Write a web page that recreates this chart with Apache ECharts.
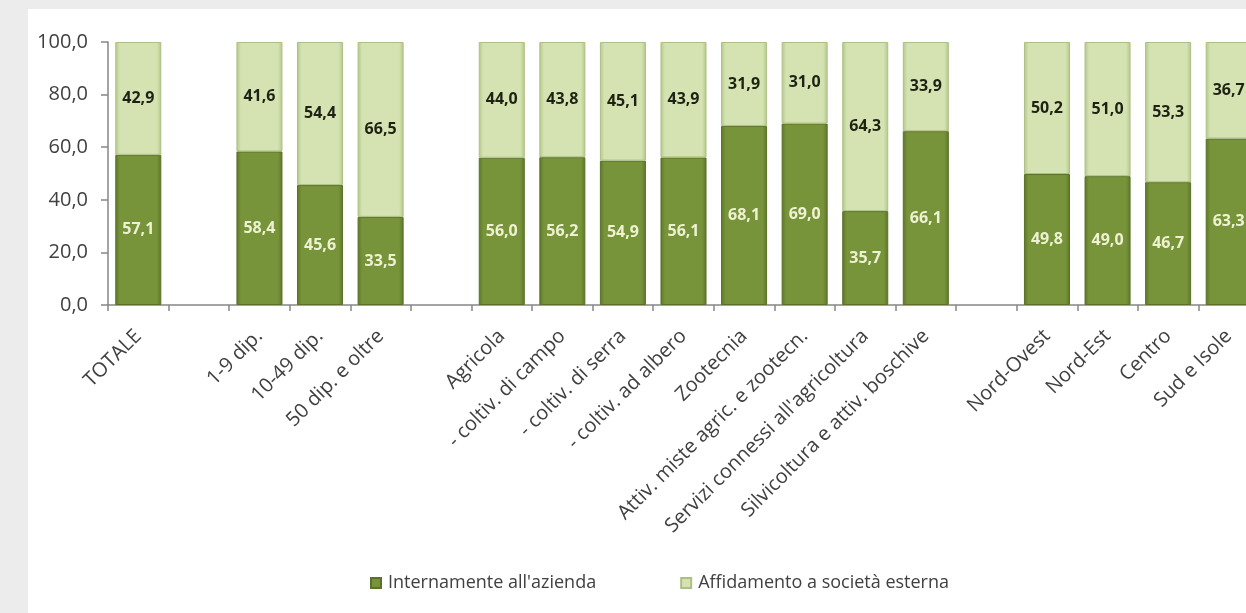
<!DOCTYPE html>
<html>
<head>
<meta charset="utf-8">
<script src="https://cdn.jsdelivr.net/npm/echarts@6/dist/echarts.min.js"></script>
<style>
  html, body { margin: 0; padding: 0; background: #ececec; overflow: hidden; }
  #chart { width: 1246px; height: 613px; }
</style>
</head>
<body>
<div id="chart"></div>
<script>
// Categories (empty strings are spacer slots between groups)
const categories = [
  'TOTALE', '',
  '1-9 dip.', '10-49 dip.', '50 dip. e oltre', '',
  'Agricola', '- coltiv. di campo', '- coltiv. di serra', '- coltiv. ad albero',
  'Zootecnia', 'Attiv. miste agric. e zootecn.', "Servizi connessi all'agricoltura",
  'Silvicoltura e attiv. boschive', '',
  'Nord-Ovest', 'Nord-Est', 'Centro', 'Sud e Isole'
];

const seriesNames = ["Internamente all'azienda", 'Affidamento a società esterna'];

const interna = [
  57.1, null,
  58.4, 45.6, 33.5, null,
  56.0, 56.2, 54.9, 56.1, 68.1, 69.0, 35.7, 66.1, null,
  49.8, 49.0, 46.7, 63.3
];

const esterna = [
  42.9, null,
  41.6, 54.4, 66.5, null,
  44.0, 43.8, 45.1, 43.9, 31.9, 31.0, 64.3, 33.9, null,
  50.2, 51.0, 53.3, 36.7
];

const yTicks = { min: 0, max: 100, interval: 20 };

const fmt = v => Number(v).toFixed(1).replace('.', ',');
const FONT = 'Open Sans';

// Horizontal bevel-like shading for each bar segment
function bevel(edge, mid) {
  return {
    type: 'linear', x: 0, y: 0, x2: 1, y2: 0,
    colorStops: [
      { offset: 0, color: edge },
      { offset: 0.1, color: mid },
      { offset: 0.9, color: mid },
      { offset: 1, color: edge }
    ]
  };
}

const chart = echarts.init(document.getElementById('chart'));
chart.setOption({
  backgroundColor: '#ececec',
  animation: false,
  graphic: [{
    type: 'rect', z: -10, silent: true,
    shape: { x: 28, y: 9, width: 1230, height: 620 },
    style: { fill: '#ffffff' }
  }],
  grid: {
    left: 108, right: -13, top: 42, bottom: 308,
    containLabel: false, outerBoundsMode: 'none'
  },
  legend: {
    data: seriesNames,
    left: 365, top: 569,
    itemWidth: 10, itemHeight: 10, itemGap: 84,
    icon: 'rect',
    textStyle: { fontFamily: FONT, fontSize: 18, color: '#404040', padding: [0, 0, 0, 2] }
  },
  xAxis: {
    type: 'category',
    data: categories,
    boundaryGap: true,
    axisLine: { lineStyle: { color: '#868686', width: 1.5 } },
    axisTick: { show: true, interval: 0, length: 6, lineStyle: { color: '#868686', width: 1.5 } },
    axisLabel: {
      interval: 0, rotate: 45, margin: 28,
      fontFamily: FONT, fontSize: 20, color: '#404040'
    }
  },
  yAxis: {
    type: 'value',
    min: yTicks.min, max: yTicks.max, interval: yTicks.interval,
    splitLine: { show: false },
    axisLine: { show: true, lineStyle: { color: '#868686', width: 1.5 } },
    axisTick: { show: true, length: 7, lineStyle: { color: '#868686', width: 1.5 } },
    axisLabel: {
      margin: 20, formatter: fmt,
      fontFamily: FONT, fontSize: 20, color: '#404040'
    }
  },
  series: [
    {
      name: seriesNames[0], type: 'bar', stack: 'tot', barWidth: '76%',
      data: interna,
      itemStyle: { color: bevel('#5d7628', '#77943a'), borderColor: '#5a7127', borderWidth: 1 },
      label: {
        show: true, position: 'inside', formatter: p => fmt(p.value),
        fontFamily: FONT, fontSize: 16, fontWeight: 'bold', color: '#eef2d2'
      }
    },
    {
      name: seriesNames[1], type: 'bar', stack: 'tot', barWidth: '76%',
      data: esterna,
      itemStyle: { color: bevel('#b3c786', '#d5e3b3'), borderColor: '#aebf85', borderWidth: 1 },
      label: {
        show: true, position: 'inside', formatter: p => fmt(p.value),
        fontFamily: FONT, fontSize: 16, fontWeight: 'bold', color: '#1e2212'
      }
    }
  ]
});
</script>
</body>
</html>
